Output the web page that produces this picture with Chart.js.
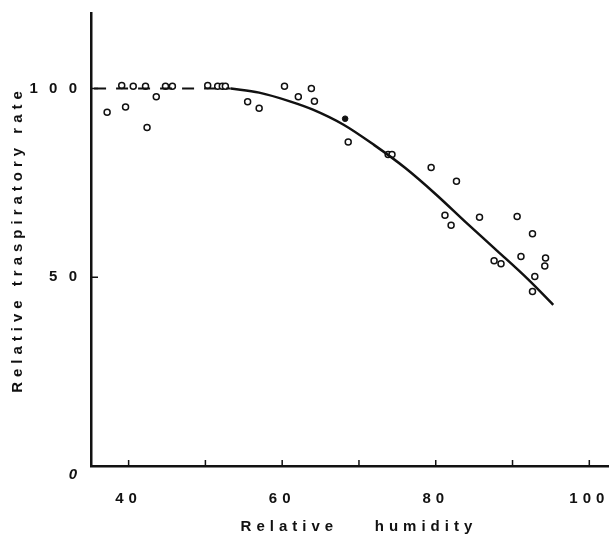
<!DOCTYPE html>
<html>
<head>
<meta charset="utf-8">
<script src="https://cdn.jsdelivr.net/npm/chart.js@4"></script>
<style>
  body { margin: 0; background: #fff; }
  #wrap { width: 614px; height: 544px; }
</style>
</head>
<body>
<div id="wrap"><canvas id="humChart" width="614" height="544"></canvas></div>
<script>
// axis ticks
const xTicks = [40, 50, 60, 70, 80, 90, 100];
const xLabelled = [40, 60, 80, 100];
const yTicks = [0, 50, 100];

// open circles (relative humidity, relative transpiration)
const openX = [37.2, 39.1, 39.6, 40.6, 42.2, 42.4, 43.6, 44.8, 45.7, 50.3, 51.6, 52.2, 52.6, 55.5, 57.0, 60.3, 62.1, 63.8,
               64.2, 68.6, 73.8, 74.3, 79.4, 81.2, 82.0, 82.7, 85.7, 87.6, 88.5, 90.6, 91.1, 92.6, 92.6, 92.9, 94.2, 94.3];
const openY = [93.7, 100.8, 95.1, 100.6, 100.6, 89.7, 97.8, 100.6, 100.6, 100.8, 100.6, 100.6, 100.6, 96.5, 94.8, 100.6, 97.8, 100,
               96.6, 85.8, 82.5, 82.5, 79.1, 66.4, 63.8, 75.4, 65.9, 54.4, 53.6, 66.1, 55.5, 61.5, 46.2, 50.2, 53.0, 55.1];

// filled point
const filledX = [68.2];
const filledY = [92.0];

// fitted curve
const curveX = [53.3, 57.0, 61.0, 64.0, 68.0, 72.0, 76.0, 80.0, 84.0, 88.0, 92.0, 95.3];
const curveY = [100, 98.9, 96.6, 94.4, 90.4, 85.0, 79.0, 72.0, 64.4, 57.0, 49.5, 42.7];

// dashed plateau
const dashX = [35.5, 53.3];
const dashY = [100, 100];

const pts = (xs, ys) => xs.map((x, i) => ({x: x, y: ys[i]}));
const ink = '#111';

// letter spacing like the original typesetting
const spacingPlugin = {
  id: 'spacing',
  beforeLayout(chart) { chart.ctx.letterSpacing = '5px'; },
  beforeDraw(chart) { chart.ctx.letterSpacing = '5px'; }
};

// short tick marks pointing into the plot
const innerTicks = {
  id: 'innerTicks',
  afterDraw(chart) {
    const {ctx, chartArea, scales} = chart;
    ctx.save();
    ctx.strokeStyle = ink;
    ctx.lineWidth = 1.5;
    ctx.beginPath();
    xTicks.forEach(v => {
      const px = scales.x.getPixelForValue(v);
      ctx.moveTo(px, chartArea.bottom);
      ctx.lineTo(px, chartArea.bottom - 6);
    });
    yTicks.filter(v => v > 0).forEach(v => {
      const py = scales.y.getPixelForValue(v);
      ctx.moveTo(chartArea.left, py);
      ctx.lineTo(chartArea.left + 7, py);
    });
    ctx.stroke();
    ctx.restore();
  }
};

new Chart(document.getElementById('humChart'), {
  type: 'scatter',
  data: {
    datasets: [
      {
        type: 'line',
        data: pts(dashX, dashY),
        borderColor: ink,
        borderWidth: 2,
        borderDash: [12, 10],
        pointRadius: 0
      },
      {
        type: 'line',
        data: pts(curveX, curveY),
        borderColor: ink,
        borderWidth: 2.5,
        cubicInterpolationMode: 'monotone',
        pointRadius: 0
      },
      {
        data: pts(openX, openY),
        pointRadius: 3,
        pointBorderWidth: 1.5,
        pointBorderColor: ink,
        pointBackgroundColor: '#fff'
      },
      {
        data: pts(filledX, filledY),
        pointRadius: 2.8,
        pointBorderWidth: 1,
        pointBorderColor: ink,
        pointBackgroundColor: ink
      }
    ]
  },
  options: {
    responsive: false,
    animation: false,
    layout: {padding: {top: 13, right: 2, left: 0, bottom: 0}},
    plugins: {legend: {display: false}, tooltip: {enabled: false}},
    scales: {
      x: {
        type: 'linear',
        min: 35.1, max: 102.5,
        afterBuildTicks: s => { s.ticks = xTicks.map(v => ({value: v})); },
        afterFit: s => { s.height = 78; s.paddingLeft = 0; s.paddingRight = 0; },
        grid: {display: false, drawTicks: false},
        border: {display: true, color: ink, width: 2.5},
        ticks: {
          color: ink,
          padding: 24,
          maxRotation: 0,
          autoSkip: false,
          font: {family: 'Liberation Sans', size: 15, weight: 'bold'},
          callback: v => xLabelled.includes(v) ? String(v) : ''
        },
        title: {
          display: true,
          text: '  Relative    humidity',
          color: ink,
          font: {family: 'Liberation Sans', size: 15, weight: 'bold'},
          padding: {top: 0, bottom: 8}
        }
      },
      y: {
        min: 0, max: 120,
        afterBuildTicks: s => { s.ticks = yTicks.map(v => ({value: v})); },
        afterFit: s => { s.width = 91; s.paddingTop = 0; s.paddingBottom = 0; },
        grid: {display: false, drawTicks: false},
        border: {display: true, color: ink, width: 2.5},
        ticks: {
          color: ink,
          padding: 9,
          font: c => ({family: 'Liberation Sans', size: 15, weight: 'bold',
                       style: c.tick && c.tick.value === 0 ? 'italic' : 'normal'}),
          // the zero sits a little below the axis in the original
          callback: v => v === 0 ? ['', '0'] : String(v).split('').join('\u200A')
        },
        title: {
          display: true,
          text: 'Relative traspiratory rate',
          color: ink,
          font: {family: 'Liberation Sans', size: 15, weight: 'bold'},
          padding: {top: 9, bottom: 0}
        }
      }
    }
  },
  plugins: [spacingPlugin, innerTicks]
});
</script>
</body>
</html>
